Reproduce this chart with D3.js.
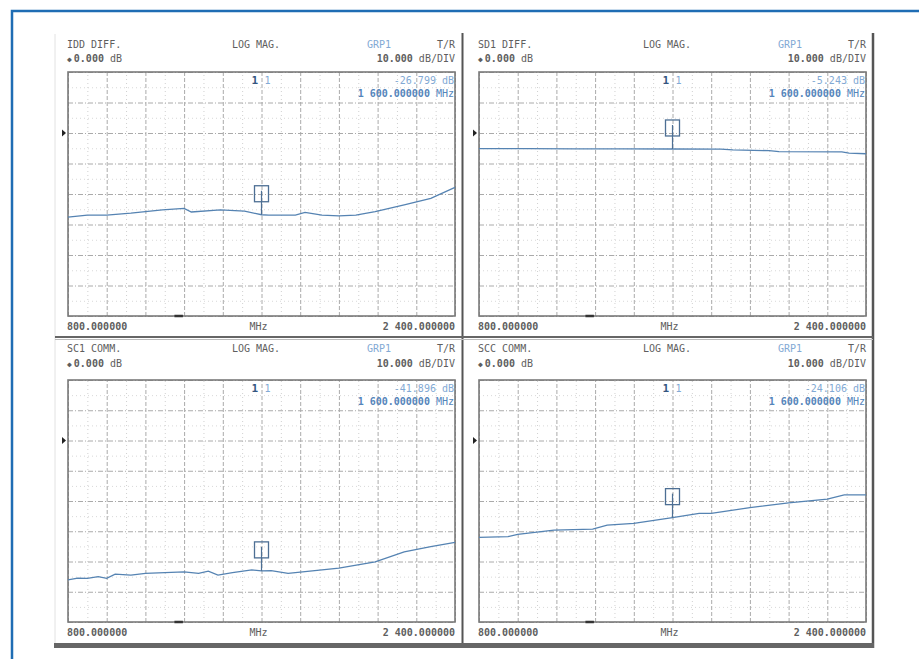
<!DOCTYPE html>
<html>
<head>
<meta charset="utf-8">
<script src="https://cdn.jsdelivr.net/npm/d3@7"></script>
<style>
  body { margin: 0; background: #fff; }
  text { font-family: 'DejaVu Sans Mono', 'Liberation Mono', monospace; }
</style>
</head>
<body>
<div id="chart"></div>
<script>
// trace values (MHz / dB)
let freqTL = [800, 880, 960, 1060, 1190, 1280, 1310, 1430, 1530, 1600, 1630, 1740, 1780, 1850, 1920, 1990, 2070, 2190, 2300, 2400];
let dbTL = [-27.6, -26.9, -26.9, -26.3, -25.2, -24.7, -25.9, -25.2, -25.6, -26.8, -26.9, -26.9, -26.0, -26.9, -27.2, -26.9, -25.8, -23.6, -21.4, -17.8];

let freqTR = [800, 1000, 1200, 1400, 1600, 1800, 1850, 2000, 2040, 2300, 2330, 2400];
let dbTR = [-5.1, -5.1, -5.2, -5.2, -5.24, -5.3, -5.5, -5.8, -6.1, -6.2, -6.6, -6.8];

let freqBL = [800, 840, 880, 925, 960, 995, 1060, 1120, 1200, 1280, 1340, 1380, 1420, 1480, 1560, 1600, 1640, 1710, 1770, 1920, 2070, 2190, 2300, 2400];
let dbBL = [-46.1, -45.5, -45.6, -45.0, -45.6, -44.2, -44.5, -43.9, -43.7, -43.4, -43.9, -43.2, -44.5, -43.7, -42.8, -43.1, -43.0, -43.9, -43.4, -42.2, -40.1, -36.8, -35.1, -33.7];

let freqBR = [800, 920, 960, 1110, 1270, 1330, 1440, 1600, 1710, 1760, 1920, 2080, 2240, 2310, 2400];
let dbBR = [-32.0, -31.8, -31.0, -29.6, -29.3, -28.0, -27.4, -25.5, -24.1, -24.1, -22.2, -20.6, -19.4, -18.0, -18.0];

let titles = ['IDD DIFF.', 'SD1 DIFF.', 'SC1 COMM.', 'SCC COMM.'];
let markerReadout = ['-26.799', '-5.243', '-41.896', '-24.106'];
let markerFreq = 1600;
let markerFreqLabel = '1 600.000000';
let startLabel = '800.000000';
let stopLabel = '2 400.000000';
let freqGrid = [800, 960, 1120, 1280, 1440, 1600, 1760, 1920, 2080, 2240, 2400];
let dbGrid = [20, 10, 0, -10, -20, -30, -40, -50, -60];
let refLevel = 0;

let traces = [
  {f: freqTL, db: dbTL},
  {f: freqTR, db: dbTR},
  {f: freqBL, db: dbBL},
  {f: freqBR, db: dbBR}
];

// panel boxes on the screen
let boxes = [
  {x0: 68, x1: 455, y0: 72, y1: 316, h1: 48, h2: 62},
  {x0: 479, x1: 866, y0: 72, y1: 316, h1: 48, h2: 62},
  {x0: 68, x1: 455, y0: 380, y1: 622, h1: 352, h2: 367},
  {x0: 479, x1: 866, y0: 380, y1: 622, h1: 352, h2: 367}
];

let textGray = '#5e5e5e';
let blue = '#5585bb';
let lightBlue = '#82a9d4';
let traceColor = '#5583b2';

let svg = d3.select('#chart')
  .append('svg')
  .attr('width', 919)
  .attr('height', 659);

// outer blue frame
svg.append('path')
  .attr('d', 'M12,659 V11 H919')
  .attr('fill', 'none')
  .attr('stroke', '#1f6db4')
  .attr('stroke-width', 2.5);

// screen frame
svg.append('line').attr('x1', 55).attr('x2', 55).attr('y1', 34).attr('y2', 644)
  .attr('stroke', '#e2e2e2').attr('stroke-width', 1);
svg.append('line').attr('x1', 873).attr('x2', 873).attr('y1', 33).attr('y2', 648)
  .attr('stroke', '#555').attr('stroke-width', 2.5);
svg.append('line').attr('x1', 462.5).attr('x2', 462.5).attr('y1', 33).attr('y2', 645)
  .attr('stroke', '#555').attr('stroke-width', 2);
svg.append('line').attr('x1', 55).attr('x2', 873).attr('y1', 337).attr('y2', 337)
  .attr('stroke', '#666').attr('stroke-width', 2);
svg.append('line').attr('x1', 55).attr('x2', 873).attr('y1', 339.5).attr('y2', 339.5)
  .attr('stroke', '#bbb').attr('stroke-width', 1);
svg.append('rect').attr('x', 54).attr('y', 643).attr('width', 820).attr('height', 5)
  .attr('fill', '#666');

boxes.forEach(function(b, i) {
  let x = d3.scaleLinear().domain([800, 2400]).range([b.x0, b.x1]);
  let y = d3.scaleLinear().domain([20, -60]).range([b.y0, b.y1]);
  let w = b.x1 - b.x0;
  let h = b.y1 - b.y0;
  let g = svg.append('g');

  // minor dotted grid
  let minorX = freqGrid.slice(1).map(d => d - 80);
  let minorY = dbGrid.slice(1).map(d => d + 5);
  g.append('g')
    .attr('transform', `translate(0,${b.y1})`)
    .call(d3.axisBottom(x).tickValues(minorX).tickSizeInner(-h).tickFormat(''))
    .call(a => a.select('.domain').remove())
    .call(a => a.selectAll('line').attr('stroke', '#d0d0d0').attr('stroke-dasharray', '1,3'));
  g.append('g')
    .attr('transform', `translate(${b.x0},0)`)
    .call(d3.axisLeft(y).tickValues(minorY).tickSizeInner(-w).tickFormat(''))
    .call(a => a.select('.domain').remove())
    .call(a => a.selectAll('line').attr('stroke', '#d8d8d8').attr('stroke-dasharray', '1,3'));

  // major grid
  g.append('g')
    .attr('transform', `translate(0,${b.y1})`)
    .call(d3.axisBottom(x).tickValues(freqGrid).tickSizeInner(-h).tickFormat(''))
    .call(a => a.select('.domain').remove())
    .call(a => a.selectAll('line').attr('stroke', '#aaa').attr('stroke-dasharray', '4,2'));
  g.append('g')
    .attr('transform', `translate(${b.x0},0)`)
    .call(d3.axisLeft(y).tickValues(dbGrid).tickSizeInner(-w).tickFormat(''))
    .call(a => a.select('.domain').remove())
    .call(a => a.selectAll('line').attr('stroke', '#aaa').attr('stroke-dasharray', '5,2,1,2'));

  // plot box
  g.append('rect')
    .attr('x', b.x0).attr('y', b.y0)
    .attr('width', w).attr('height', h)
    .attr('fill', 'none')
    .attr('stroke', '#7a7a7a')
    .attr('stroke-width', 1.6);

  // small dark mark on bottom edge
  g.append('line')
    .attr('x1', x(1240)).attr('x2', x(1275))
    .attr('y1', b.y1).attr('y2', b.y1)
    .attr('stroke', '#333').attr('stroke-width', 2.5);

  // reference position arrow
  let ry = y(refLevel);
  g.append('path')
    .attr('d', `M${b.x0 - 6},${ry - 3.5} L${b.x0 - 2},${ry} L${b.x0 - 6},${ry + 3.5} Z`)
    .attr('fill', '#222');

  // trace
  let t = traces[i];
  let pts = t.f.map((f, k) => [f, t.db[k]]);
  let line = d3.line().x(d => x(d[0])).y(d => y(d[1]));
  g.append('path')
    .datum(pts)
    .attr('d', line)
    .attr('fill', 'none')
    .attr('stroke', traceColor)
    .attr('stroke-width', 1.3);

  // marker
  let mDb = d3.scaleLinear().domain(t.f).range(t.db)(markerFreq);
  let mx = x(markerFreq);
  let my = y(mDb);
  g.append('line')
    .attr('x1', mx).attr('x2', mx)
    .attr('y1', my - 24).attr('y2', my)
    .attr('stroke', '#4d6f94').attr('stroke-width', 1.2);
  g.append('rect')
    .attr('x', mx - 7).attr('y', my - 29)
    .attr('width', 14).attr('height', 16)
    .attr('fill', 'none')
    .attr('stroke', '#4d6f94')
    .attr('stroke-width', 1.3);

  // header
  let fs = 10;
  g.append('text').attr('x', b.x0 - 1).attr('y', b.h1)
    .attr('font-size', fs).attr('fill', textGray).text(titles[i]);
  g.append('text').attr('x', b.x0 + 188).attr('y', b.h1).attr('text-anchor', 'middle')
    .attr('font-size', fs).attr('fill', textGray).text('LOG MAG.');
  g.append('text').attr('x', b.x0 + 299).attr('y', b.h1)
    .attr('font-size', fs).attr('fill', lightBlue).text('GRP1');
  g.append('text').attr('x', b.x1).attr('y', b.h1).attr('text-anchor', 'end')
    .attr('font-size', fs).attr('fill', textGray).text('T/R');

  let ref = g.append('text').attr('x', b.x0 - 1).attr('y', b.h2)
    .attr('font-size', fs).attr('fill', textGray);
  ref.append('tspan').attr('font-size', 8).text('◆');
  ref.append('tspan').attr('dx', 2).attr('font-weight', 'bold').text(refLevel.toFixed(3));
  ref.append('tspan').text(' dB');

  let div = g.append('text').attr('x', b.x1).attr('y', b.h2).attr('text-anchor', 'end')
    .attr('font-size', fs).attr('fill', textGray);
  div.append('tspan').attr('font-weight', 'bold').text('10.000');
  div.append('tspan').text(' dB/DIV');

  // marker readout
  g.append('text').attr('x', mx - 10).attr('y', b.y0 + 12)
    .attr('font-size', fs + 1).attr('font-weight', 'bold').attr('fill', '#34557f').text('1');
  g.append('text').attr('x', mx + 3).attr('y', b.y0 + 12)
    .attr('font-size', fs).attr('fill', lightBlue).text('1');
  g.append('text').attr('x', b.x1 - 1).attr('y', b.y0 + 12).attr('text-anchor', 'end')
    .attr('font-size', fs).attr('fill', lightBlue).text(markerReadout[i] + ' dB');
  let mf = g.append('text').attr('x', b.x1 - 1).attr('y', b.y0 + 25).attr('text-anchor', 'end')
    .attr('font-size', fs).attr('fill', blue);
  mf.append('tspan').attr('font-weight', 'bold').text(markerFreqLabel);
  mf.append('tspan').text(' MHz');

  // frequency labels
  g.append('text').attr('x', b.x0 - 1).attr('y', b.y1 + 14)
    .attr('font-size', fs).attr('font-weight', 'bold').attr('fill', textGray).text(startLabel);
  g.append('text').attr('x', (b.x0 + b.x1) / 2 - 3).attr('y', b.y1 + 14).attr('text-anchor', 'middle')
    .attr('font-size', fs).attr('fill', textGray).text('MHz');
  g.append('text').attr('x', b.x1).attr('y', b.y1 + 14).attr('text-anchor', 'end')
    .attr('font-size', fs).attr('font-weight', 'bold').attr('fill', textGray).text(stopLabel);
});
</script>
</body>
</html>
